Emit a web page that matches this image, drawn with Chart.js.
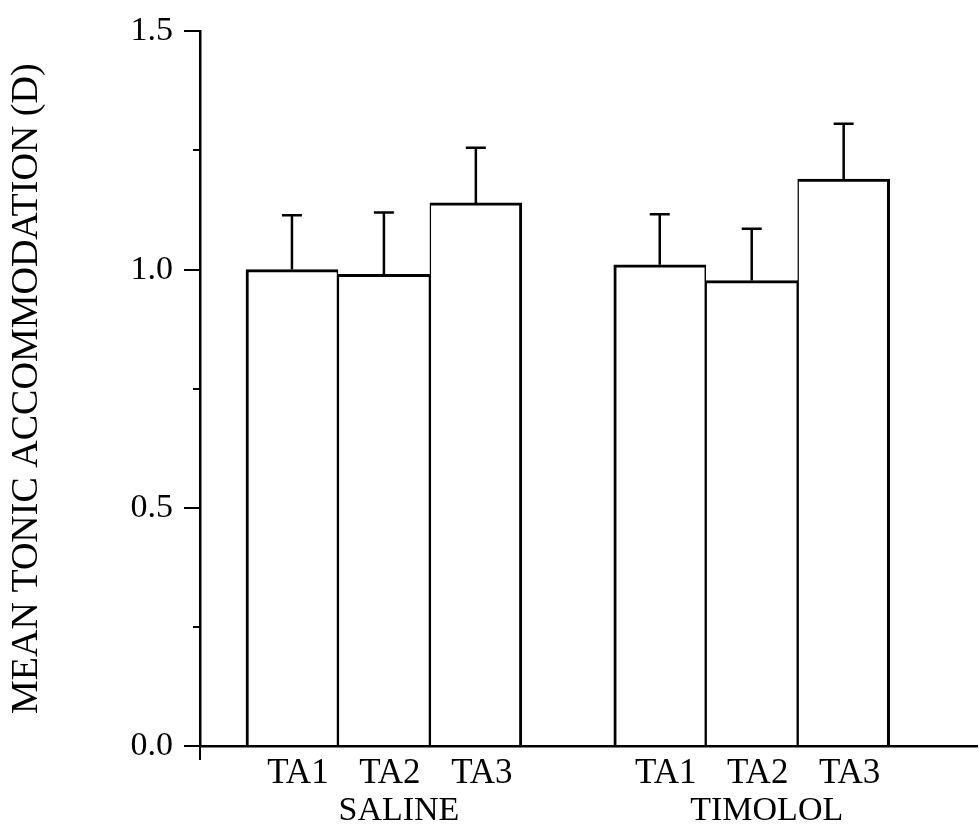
<!DOCTYPE html>
<html>
<head>
<meta charset="utf-8">
<title>Mean tonic accommodation</title>
<script src="https://cdn.jsdelivr.net/npm/chart.js@4.4.1/dist/chart.umd.min.js"></script>
<style>
  html, body { margin: 0; padding: 0; background: #fff; }
  canvas { display: block; }
</style>
</head>
<body>
<canvas id="chart" width="979" height="831"></canvas>
<script>
// Measurements per condition (dioptres)
const categories = ['TA1', 'TA2', 'TA3'];
const groups = ['SALINE', 'TIMOLOL'];
const salineMean = [1.00, 0.99, 1.14];
const salineErr = [0.114, 0.130, 0.116];
const timololMean = [1.01, 0.977, 1.19];
const timololErr = [0.106, 0.109, 0.116];
const yMajorTicks = [0.0, 0.5, 1.0, 1.5];
const yMinorTicks = [0.25, 0.75, 1.25];
const yTitle = 'MEAN TONIC ACCOMMODATION (D)';

const FONT = "'Liberation Serif', 'Times New Roman', serif";
const INK = '#000';

// Each group occupies categories.length slots plus one empty slot between groups
const slot = (g, c) => g * (categories.length + 1) + c + 1;
const toPoints = (means, g) => means.map((y, c) => ({ x: slot(g, c), y }));

const catTickValues = [];
const catTickLabels = [];
groups.forEach((_, g) => categories.forEach((name, c) => {
  catTickValues.push(slot(g, c));
  catTickLabels.push(name);
}));
const groupTickValues = groups.map((_, g) => slot(g, (categories.length - 1) / 2));

const xMin = 0;
const xMax = 8.45;

// Adjacent bars share one edge: inner sides are half width so the joint matches the outline
function barBorder(ctx) {
  const last = categories.length - 1;
  const i = ctx.dataIndex;
  return { top: 3, bottom: 0, left: i === 0 ? 3 : 1.5, right: i === last ? 3 : 1.5 };
}

const baseDataset = {
  backgroundColor: '#fff',
  borderColor: INK,
  borderWidth: barBorder,
  borderSkipped: 'bottom',
  grouped: false,
  barPercentage: 1,
  categoryPercentage: 1
};

// Error bars, minor y ticks and the short axis stub below the origin
const decorations = {
  id: 'decorations',
  afterDatasetsDraw(chart) {
    const { ctx } = chart;
    const y = chart.scales.y;
    ctx.save();
    ctx.strokeStyle = INK;
    ctx.lineWidth = 2.5;
    ctx.lineCap = 'butt';
    chart.data.datasets.forEach((ds, di) => {
      const meta = chart.getDatasetMeta(di);
      meta.data.forEach((bar, i) => {
        const top = y.getPixelForValue(ds.data[i].y + ds.errors[i]);
        const base = y.getPixelForValue(ds.data[i].y);
        ctx.beginPath();
        ctx.moveTo(bar.x, base);
        ctx.lineTo(bar.x, top);
        ctx.moveTo(bar.x - 10, top);
        ctx.lineTo(bar.x + 10, top);
        ctx.stroke();
      });
    });
    ctx.restore();
  },
  afterDraw(chart) {
    const { ctx, chartArea } = chart;
    const y = chart.scales.y;
    ctx.save();
    ctx.strokeStyle = INK;
    ctx.lineWidth = 2;
    ctx.beginPath();
    yMinorTicks.forEach(v => {
      const py = Math.round(y.getPixelForValue(v));
      ctx.moveTo(chartArea.left - 7, py);
      ctx.lineTo(chartArea.left, py);
    });
    ctx.moveTo(chartArea.left, chartArea.bottom);
    ctx.lineTo(chartArea.left, chartArea.bottom + 14);
    ctx.stroke();
    ctx.restore();
  }
};

new Chart(document.getElementById('chart'), {
  type: 'bar',
  data: {
    datasets: [
      Object.assign({ label: groups[0], data: toPoints(salineMean, 0), errors: salineErr }, baseDataset),
      Object.assign({ label: groups[1], data: toPoints(timololMean, 1), errors: timololErr }, baseDataset)
    ]
  },
  options: {
    responsive: false,
    animation: false,
    layout: { padding: { top: 28, right: 2, bottom: 0, left: 0 } },
    plugins: { legend: { display: false }, tooltip: { enabled: false } },
    scales: {
      x: {
        type: 'linear',
        position: 'bottom',
        offset: false,
        min: xMin,
        max: xMax,
        grid: { display: false, drawTicks: false, offset: false },
        border: { display: true, color: INK, width: 2.5 },
        afterBuildTicks: s => { s.ticks = catTickValues.map(v => ({ value: v })); },
        ticks: {
          autoSkip: false,
          maxRotation: 0,
          padding: 10,
          labelOffset: 6,
          color: INK,
          font: { family: FONT, size: 35, lineHeight: 1 },
          callback: (v, i) => catTickLabels[i]
        },
        afterFit: s => { s.height = 46; }
      },
      x2: {
        type: 'linear',
        position: 'bottom',
        offset: false,
        min: xMin,
        max: xMax,
        grid: { display: false, drawTicks: false, offset: false },
        border: { display: false },
        afterBuildTicks: s => { s.ticks = groupTickValues.map(v => ({ value: v })); },
        ticks: {
          autoSkip: false,
          maxRotation: 0,
          padding: 2,
          labelOffset: 15,
          color: INK,
          font: { family: FONT, size: 34, lineHeight: 1 },
          callback: (v, i) => groups[i]
        },
        afterFit: s => { s.height = 39; }
      },
      y: {
        min: 0,
        max: 1.5,
        grid: {
          drawOnChartArea: false,
          drawTicks: true,
          tickLength: 16,
          lineWidth: 2,
          tickWidth: 2,
          tickColor: c => yMajorTicks.some(v => Math.abs(v - c.tick.value) < 1e-6) ? INK : 'rgba(0,0,0,0)'
        },
        border: { display: true, color: INK, width: 2.5 },
        ticks: {
          stepSize: 0.25,
          autoSkip: false,
          padding: 11,
          color: INK,
          font: { family: FONT, size: 34 },
          callback: v => yMajorTicks.some(m => Math.abs(m - v) < 1e-6) ? v.toFixed(1) : ''
        },
        title: {
          display: true,
          text: yTitle,
          color: INK,
          font: { family: FONT, size: 38 },
          padding: { top: 4, bottom: 0 }
        },
        afterFit: s => { s.width = 200; }
      }
    }
  },
  plugins: [decorations]
});
</script>
</body>
</html>
